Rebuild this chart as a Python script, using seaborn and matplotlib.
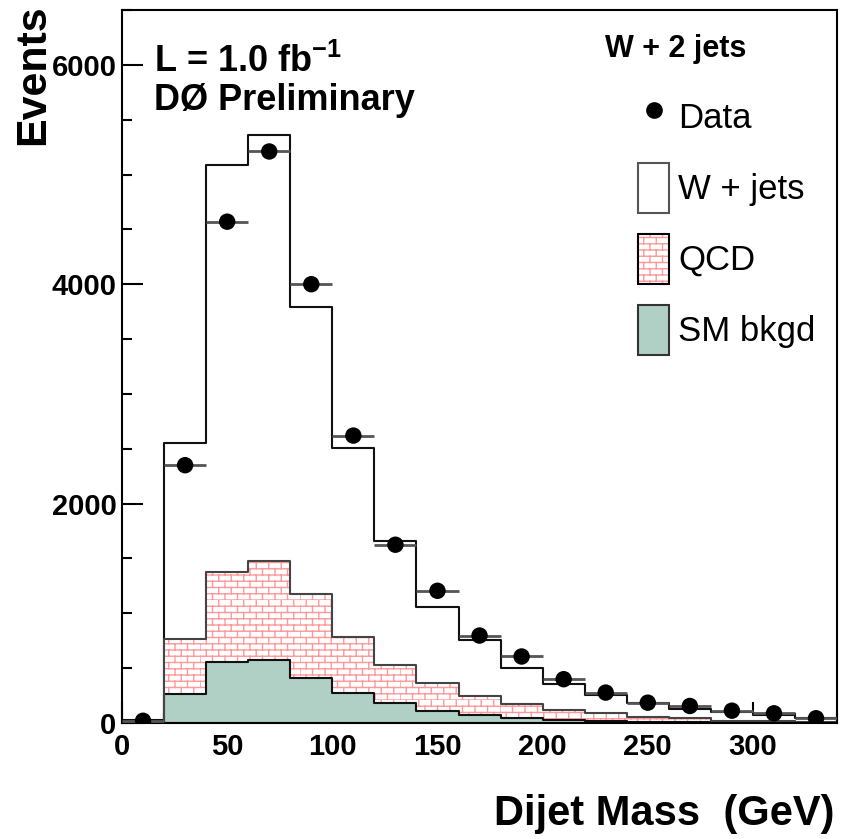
#!/usr/bin/env python
"""Dijet mass distribution for W + 2 jets events: data points over the
stacked W+jets, QCD and SM background expectation (D0 preliminary style).
"""
import warnings

import numpy as np
import pandas as pd
import matplotlib
matplotlib.use('Agg')
import matplotlib.pyplot as plt
import matplotlib.hatch as mhatch
from matplotlib.path import Path
from matplotlib.patches import Patch
from matplotlib.lines import Line2D
from matplotlib.ticker import MultipleLocator
import seaborn as sb


# bins of 20 GeV
bin_edges = [0, 20, 40, 60, 80, 100, 120, 140, 160, 180, 200, 220, 240,
             260, 280, 300, 320, 340]
bin_centers = [10, 30, 50, 70, 90, 110, 130, 150, 170, 190, 210, 230, 250,
               270, 290, 310, 330]
sm_bkgd = [5, 268, 557, 575, 414, 271, 180, 112, 75, 49, 27, 18, 10, 7, 5, 3, 2]
qcd = [5, 499, 823, 905, 766, 517, 347, 250, 170, 122, 92, 70, 48, 36, 16, 11, 8]
wjets = [20, 1783, 3710, 3880, 2610, 1722, 1133, 698, 515, 329, 236, 168,
         127, 85, 82, 59, 33]
data = [20, 2350, 4570, 5210, 4000, 2620, 1625, 1205, 797, 606, 399, 277,
        185, 155, 112, 88, 43]

green = '#b0cfc5'
pink = '#ff9999'


class BrickHatch(mhatch.HatchPatternBase):
    """ROOT style brick fill, picked with the 'b' hatch character"""
    def __init__(self, hatch, density):
        self.rows = 16 * hatch.count('b')
        self.cols = 8
        self.num_vertices = 2 * self.rows * (1 + self.cols)

    def set_vertices_and_codes(self, vertices, codes):
        segs = []
        for r in range(self.rows):
            y0 = r / self.rows
            y1 = (r + 1) / self.rows
            segs.append(((0, y0), (1, y0)))
            shift = 0.5 / self.cols if r % 2 else 0.0
            for c in range(self.cols):
                x = c / self.cols + shift
                segs.append(((x, y0), (x, y1)))
        vertices[:] = np.array(segs).reshape(-1, 2)
        codes[0::2] = Path.MOVETO
        codes[1::2] = Path.LINETO


mhatch._hatch_types.append(BrickHatch)
warnings.filterwarnings('ignore', category=matplotlib.MatplotlibDeprecationWarning)


def main():
    sb.set_style('ticks')
    plt.rcParams['font.family'] = ['Liberation Sans', 'DejaVu Sans']
    plt.rcParams['font.weight'] = 'bold'
    plt.rcParams['hatch.linewidth'] = 1.0
    for key in ['text.color', 'axes.labelcolor', 'xtick.color', 'ytick.color']:
        plt.rcParams[key] = 'black'

    df = pd.DataFrame({'mass': bin_centers, 'sm': sm_bkgd, 'qcd': qcd,
                       'wjets': wjets, 'data': data})
    # stacked heights
    df['qcd_stack'] = df['sm'] + df['qcd']
    df['total'] = df['qcd_stack'] + df['wjets']

    fig = plt.figure(figsize=(8.45, 8.39), dpi=100)
    ax = fig.add_axes([0.1444, 0.1383, 0.8462, 0.8498])

    hist_kw = dict(x='mass', bins=bin_edges, element='step', ax=ax)
    # full stack (W + jets on top)
    sb.histplot(data=df, weights='total', fill=True, facecolor='white',
                edgecolor='#111111', linewidth=1.5, **hist_kw)
    # QCD bricks + outline
    sb.histplot(data=df, weights='qcd_stack', fill=True, facecolor='white',
                edgecolor=pink, linewidth=0, hatch='b', **hist_kw)
    sb.histplot(data=df, weights='qcd_stack', fill=False, color='#444444',
                linewidth=1.5, **hist_kw)
    # SM backgrounds
    sb.histplot(data=df, weights='sm', fill=True, facecolor=green,
                edgecolor='#111111', linewidth=1.5, **hist_kw)

    # data points with bin-width error bars
    ax.errorbar(df['mass'], df['data'], xerr=10, fmt='none', ecolor='#555555',
                elinewidth=2, zorder=3)
    sb.scatterplot(data=df, x='mass', y='data', color='black', s=140,
                   edgecolor='none', zorder=4, ax=ax)

    ax.set_xlim(0, 340)
    ax.set_ylim(0, 6500)
    ax.xaxis.set_major_locator(MultipleLocator(50))
    ax.xaxis.set_minor_locator(MultipleLocator(10))
    ax.yaxis.set_major_locator(MultipleLocator(2000))
    ax.yaxis.set_minor_locator(MultipleLocator(500))
    ax.tick_params(which='both', direction='in', top=False, right=False,
                   width=1.5, color='black', labelsize=21)
    ax.tick_params(which='major', length=15)
    ax.tick_params(which='minor', length=7)
    ax.tick_params(axis='x', pad=7)
    ax.tick_params(axis='y', pad=4)
    for side in ['left', 'right', 'top', 'bottom']:
        ax.spines[side].set_linewidth(1.5)
        ax.spines[side].set_color('black')

    ax.set_xlabel('Dijet Mass  (GeV)', fontsize=30, fontweight='bold', loc='right')
    ax.xaxis.set_label_coords(0.997, -0.1)
    ax.set_ylabel('Events', fontsize=31, fontweight='bold', loc='top')
    ax.yaxis.set_label_coords(-0.096, 1.008)

    plt.rcParams['mathtext.fontset'] = 'custom'
    plt.rcParams['mathtext.bf'] = 'Liberation Sans:bold'
    plt.rcParams['mathtext.rm'] = 'Liberation Sans:bold'
    ax.text(0.0448, 0.913, 'L = 1.0 fb$^{\\mathbf{-1}}$', transform=ax.transAxes,
            fontsize=26, fontweight='bold', va='baseline')
    ax.text(0.0448, 0.860, 'DØ Preliminary', transform=ax.transAxes,
            fontsize=26, fontweight='bold', va='baseline')
    ax.text(0.6755, 0.934, 'W + 2 jets', transform=ax.transAxes,
            fontsize=22, fontweight='bold', va='baseline')

    handles = [
        Line2D([], [], marker='o', color='black', linestyle='none', markersize=11),
        Patch(facecolor='white', edgecolor='#555555', linewidth=1.5),
        (Patch(facecolor='white', edgecolor=pink, linewidth=0, hatch='b'),
         Patch(facecolor='none', edgecolor='black', linewidth=1.5)),
        Patch(facecolor=green, edgecolor='#333333', linewidth=1.5),
    ]
    labels = ['Data', 'W + jets', 'QCD', 'SM bkgd']
    ax.legend(handles, labels, loc='upper left', bbox_to_anchor=(0.7217, 0.885),
              frameon=False, borderpad=0, borderaxespad=0,
              prop={'size': 25, 'weight': 'normal'},
              handlelength=0.9, handleheight=1.84, labelspacing=0.6,
              handletextpad=0.25)

    fig.savefig('out.png', dpi=100)


if __name__ == '__main__':
    main()
